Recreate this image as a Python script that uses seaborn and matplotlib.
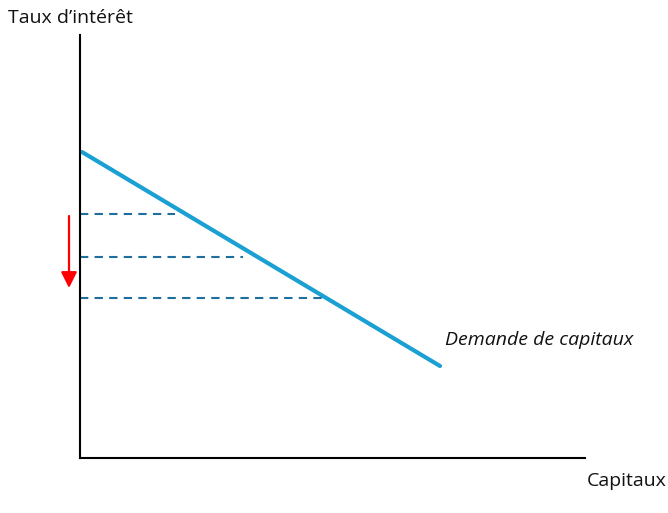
import numpy as np
import pandas as pd
import matplotlib
matplotlib.use("Agg")
import matplotlib.pyplot as plt
import seaborn as sns

# ==========================================
# DATA
# ==========================================

# Demand curve for capital (quantity, interest rate)
demand_q = [0.4, 72.0]
demand_r = [76.5, 23.0]

# Successive interest rate levels (dashed guides) and where they meet the curve
rate_levels = [61.0, 50.25, 40.0]
rate_reach = [19.0, 32.5, 48.6]

# Arrow showing the fall of the rate
arrow_x = -2.2
arrow_from = 60.5
arrow_to = 42.5

LINE_COLOR = "#1AA0D2"
DASH_COLOR = "#1F6E9E"

# ==========================================
# PLOT
# ==========================================

sns.set_theme(style="white")
plt.rcParams["font.family"] = ["Open Sans", "DejaVu Sans"]

fig = plt.figure(figsize=(6.68, 5.13), dpi=100)
ax = fig.add_axes([80 / 668, 55 / 513, 505 / 668, 423 / 513])

df = pd.DataFrame({"q": demand_q, "r": demand_r})
sns.lineplot(data=df, x="q", y="r", ax=ax, color=LINE_COLOR, linewidth=3)

for level, reach in zip(rate_levels, rate_reach):
    ax.hlines(level, 0, reach, colors=DASH_COLOR, linestyles=(0, (4, 3)), linewidth=1.5)

ax.annotate("", xy=(arrow_x, arrow_to), xytext=(arrow_x, arrow_from),
            arrowprops=dict(arrowstyle="-|>,head_length=0.8,head_width=0.4",
                            color="red", lw=1.6, shrinkA=0, shrinkB=0),
            annotation_clip=False)

ax.set_xlim(0, 101)
ax.set_ylim(0, 105.75)
ax.set_xticks([])
ax.set_yticks([])
ax.set_xlabel("")
ax.set_ylabel("")
sns.despine(ax=ax)
for side in ["left", "bottom"]:
    ax.spines[side].set_color("black")
    ax.spines[side].set_linewidth(1.5)

ax.text(73, 29.5, "Demande de capitaux", fontsize=14, style="italic",
        color="#111111", va="center", ha="left")
fig.text(8 / 668, 1 - 18 / 513, "Taux d\u2019intérêt", fontsize=14,
         color="#111111", va="center", ha="left")
fig.text(587 / 668, 1 - 481 / 513, "Capitaux", fontsize=14,
         color="#111111", va="center", ha="left")

plt.savefig("out.png", dpi=100)
plt.close()
